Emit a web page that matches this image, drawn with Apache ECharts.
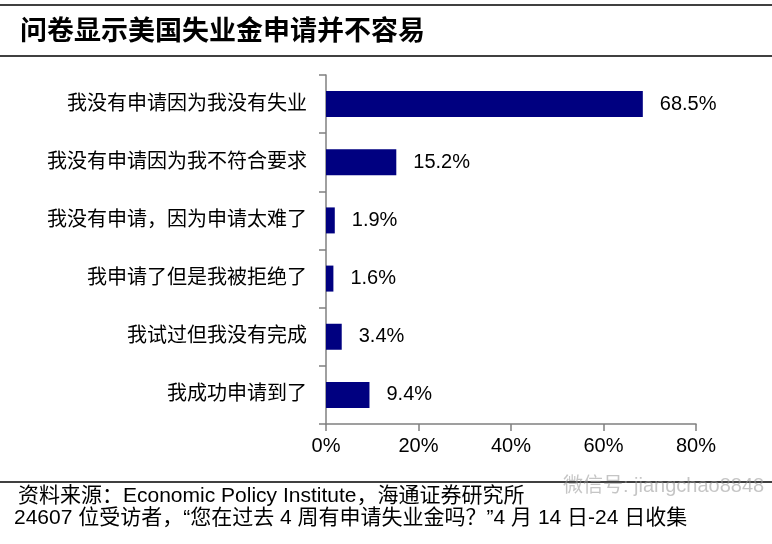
<!DOCTYPE html>
<html>
<head>
<meta charset="utf-8">
<script src="https://cdn.jsdelivr.net/npm/echarts@6/dist/echarts.min.js"></script>
<style>html,body{margin:0;padding:0;background:#fff}#c{width:772px;height:544px}</style>
</head>
<body>
<div id="c"></div>
<script>
var categories = ['我没有申请因为我没有失业', '我没有申请因为我不符合要求', '我没有申请，因为申请太难了', '我申请了但是我被拒绝了', '我试过但我没有完成', '我成功申请到了'];
var values = [68.5, 15.2, 1.9, 1.6, 3.4, 9.4];
var titleText = '问卷显示美国失业金申请并不容易';
var sourceText = '资料来源：Economic Policy Institute，海通证券研究所';
var noteText = '24607 位受访者，“您在过去 4 周有申请失业金吗？”4 月 14 日-24 日收集';
var watermarkText = '微信号: jiangchao8848';

var cjk = '"Liberation Sans", Arial, "Noto Sans CJK SC", sans-serif';
var chart = echarts.init(document.getElementById('c'), null, {renderer: 'canvas'});
chart.setOption({
  backgroundColor: '#ffffff',
  animation: false,
  grid: {left: 326, right: 76, top: 75, bottom: 120, containLabel: false},
  xAxis: {
    type: 'value', min: 0, max: 80, interval: 20,
    axisLine: {show: true, lineStyle: {color: '#808080', width: 1.5}},
    axisTick: {show: true, length: 7, lineStyle: {color: '#808080', width: 1.5}},
    splitLine: {show: false},
    axisLabel: {formatter: '{value}%', fontFamily: cjk, fontSize: 20, color: '#000', margin: 12}
  },
  yAxis: {
    type: 'category', data: categories, inverse: true,
    axisLine: {show: true, lineStyle: {color: '#808080', width: 1.5}},
    axisTick: {show: true, length: 7, lineStyle: {color: '#808080', width: 1.5}},
    axisLabel: {fontFamily: cjk, fontSize: 20, color: '#000', margin: 19}
  },
  series: [{
    type: 'bar', data: values, barWidth: 26,
    itemStyle: {color: '#000080'},
    label: {show: true, position: 'right', distance: 17, formatter: function(p){return p.value.toFixed(1) + '%';}, fontFamily: cjk, fontSize: 20, color: '#000'}
  }],
  graphic: [
    {type: 'line', shape: {x1: 0, y1: 5, x2: 772, y2: 5}, style: {stroke: '#000', lineWidth: 1.5}},
    {type: 'line', shape: {x1: 0, y1: 56, x2: 772, y2: 56}, style: {stroke: '#000', lineWidth: 1.5}},
    {type: 'text', left: 20, top: 16, style: {text: titleText, font: 'bold 27px "Noto Sans CJK SC", sans-serif', fill: '#000'}},
    {type: 'line', shape: {x1: 0, y1: 482, x2: 772, y2: 482}, style: {stroke: '#000', lineWidth: 1.5}},
    {type: 'text', left: 18, top: 486, style: {text: sourceText, font: '21px ' + cjk, fill: '#000'}},
    {type: 'text', left: 14, top: 508, style: {text: noteText, font: '21px ' + cjk, fill: '#000'}},
    {type: 'text', left: 563, top: 476, style: {text: watermarkText, font: '20px ' + cjk, fill: 'rgba(150,150,150,0.55)'}}
  ]
});
</script>
</body>
</html>
